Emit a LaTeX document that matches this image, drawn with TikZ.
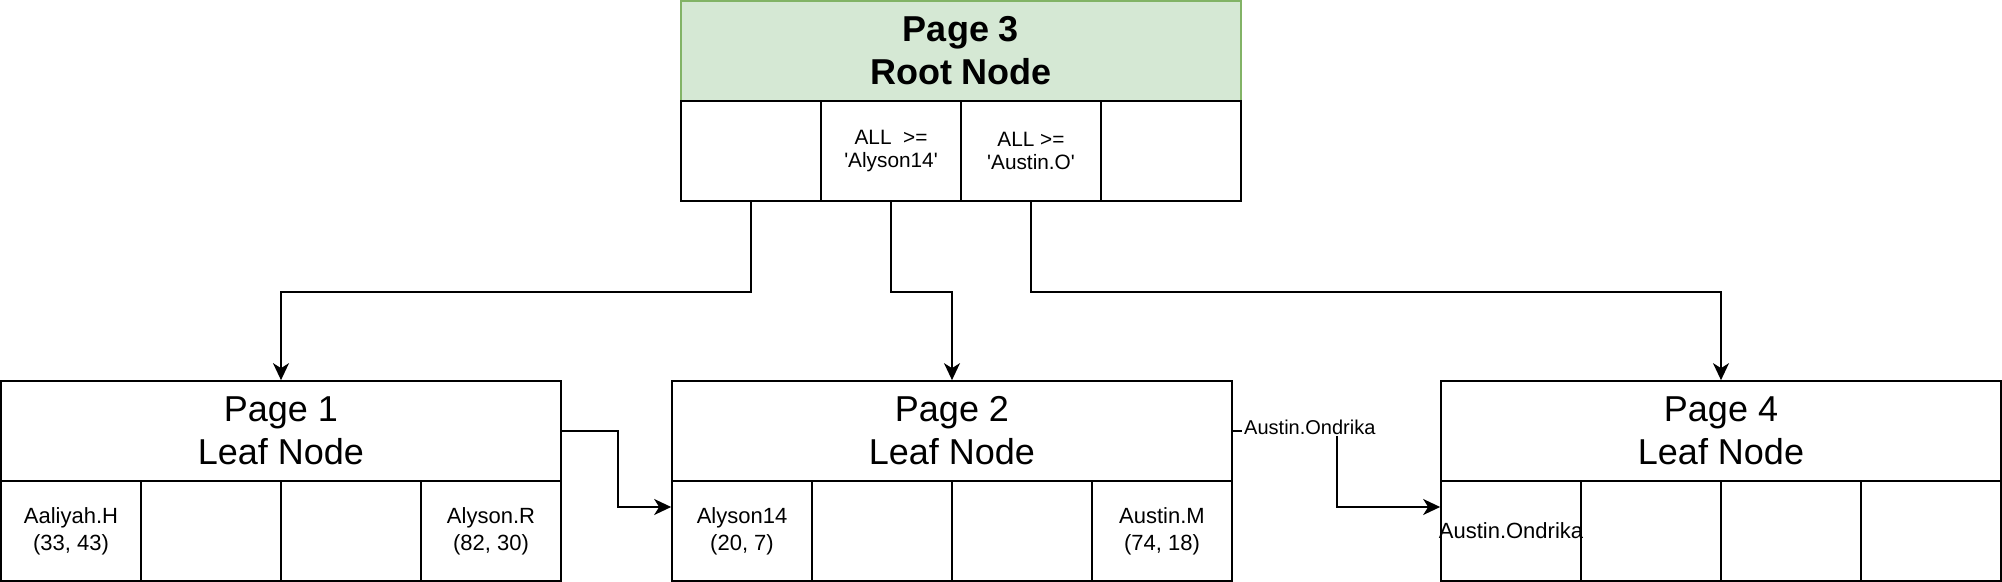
\documentclass[tikz,border=0pt]{standalone}
\usepackage{fontspec}
\setmainfont{Liberation Sans}
\usetikzlibrary{arrows.meta}
\definecolor{rootfill}{HTML}{D5E8D4}
\definecolor{rootline}{HTML}{82B366}
\newcommand{\sq}{\textquotesingle}
\tikzset{
	pagehead/.style={draw, line width=0.85pt, minimum width=280pt, minimum height=50pt, inner sep=0pt, align=center, font=\fontsize{18}{21.5}\selectfont},
	keycell/.style={draw, line width=0.85pt, minimum width=70pt, minimum height=50pt, inner sep=0pt, align=center, font=\fontsize{11}{13.5}\selectfont},
	ptr/.style={line width=0.85pt, -{Stealth[length=8.5pt, width=8pt, inset=2.5pt]}},
	ptrlabel/.style={fill=white, inner sep=1pt, font=\fontsize{10}{12}\selectfont}
}

\begin{document}
\begin{tikzpicture}[x=0.5pt, y=-0.5pt]
			\useasboundingbox (0,0) rectangle (2002,582);
			
			% root page
			\node[pagehead, fill=rootfill, draw=rootline, font=\fontsize{18}{21.5}\selectfont\bfseries] (root) at (961,51) {Page 3\\Root Node};
			\node[keycell] (r1) at (751,151) {};
			\node[keycell, font=\fontsize{10.4}{11.8}\selectfont] (r2) at (891,151) {ALL~~>=\\\sq Alyson14\sq};
			\node[keycell, font=\fontsize{10.4}{11.8}\selectfont] (r3) at (1031,151) {ALL >=\\\sq Austin.O\sq};
			\node[keycell] (r4) at (1171,151) {};
			
			% leaf pages
			\node[pagehead] (p1head) at (281,431) {Page 1\\Leaf Node};
			\node[keycell] (p1a) at (71,531) {Aaliyah.H\\(33, 43)};
			\node[keycell] (p1b) at (211,531) {};
			\node[keycell] (p1c) at (351,531) {};
			\node[keycell] (p1d) at (491,531) {Alyson.R\\(82, 30)};
			
			\node[pagehead] (p2head) at (952,431) {Page 2\\Leaf Node};
			\node[keycell] (p2a) at (742,531) {Alyson14\\(20, 7)};
			\node[keycell] (p2b) at (882,531) {};
			\node[keycell] (p2c) at (1022,531) {};
			\node[keycell] (p2d) at (1162,531) {Austin.M\\(74, 18)};
			
			\node[pagehead] (p4head) at (1721,431) {Page 4\\Leaf Node};
			\node[keycell] (p4a) at (1511,531) {\makebox[0pt]{Austin.Ondrika}};
			\node[keycell] (p4b) at (1651,531) {};
			\node[keycell] (p4c) at (1791,531) {};
			\node[keycell] (p4d) at (1931,531) {};
			
			% pointers
			\draw[ptr] (r1.south) -- ++(0,90) -| (p1head.north);
			\draw[ptr] (r2.south) -- ++(0,90) -| (p2head.north);
			\draw[ptr] (r3.south) -- ++(0,90) -| (p4head.north);
			\draw[ptr] (p1head.east) -- ++(56,0) |- ([yshift=12pt]p2a.west);
			\draw[ptr] (p2head.east) -- node[ptrlabel, pos=0.74, yshift=2pt] {Austin.Ondrika} ++(104,0) |- ([yshift=12pt]p4a.west);
		\end{tikzpicture}
\end{document}
